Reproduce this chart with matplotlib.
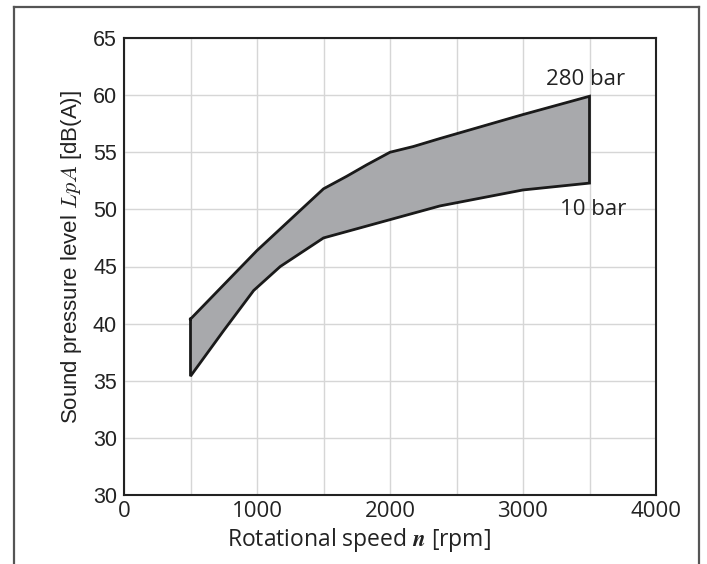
import matplotlib
matplotlib.use("Agg")
import matplotlib.pyplot as plt
from matplotlib.lines import Line2D

plt.rcParams["font.family"] = ["Liberation Sans", "DejaVu Sans"]
plt.rcParams["mathtext.fontset"] = "cm"

# speed [rpm] and sound pressure level [dB(A)]
speed_hi = [500, 1000, 1500, 1675, 1825, 2000, 2175, 2375, 3000, 3500]
level_hi = [40.4, 46.4, 51.8, 52.9, 53.9, 55.0, 55.5, 56.2, 58.3, 59.9]
speed_lo = [500, 750, 975, 1175, 1500, 1750, 2000, 2375, 3000, 3500]
level_lo = [35.4, 39.4, 42.9, 45.0, 47.5, 48.3, 49.1, 50.3, 51.7, 52.3]

x_ticks = [0, 1000, 2000, 3000, 4000]
y_ticks = [25, 30, 35, 40, 45, 50, 55, 60, 65]
y_tick_labels = ["30", "30", "35", "40", "45", "50", "55", "60", "65"]

W, H = 707, 564
fig = plt.figure(figsize=(W / 100, H / 100), dpi=100)
ax = fig.add_axes([124 / W, 1 - 495 / H, 532 / W, 457 / H])

# outer frame (open at the bottom)
frame_kw = dict(color="#555555", lw=1.6, transform=fig.transFigure)
fig.add_artist(Line2D([14 / W, 14 / W], [0, 1 - 7 / H], **frame_kw))
fig.add_artist(Line2D([14 / W, 699 / W], [1 - 7 / H, 1 - 7 / H], **frame_kw))
fig.add_artist(Line2D([699 / W, 699 / W], [0, 1 - 7 / H], **frame_kw))

# band polygon: upper curve, then lower curve reversed
poly_x = speed_hi + speed_lo[::-1] + [speed_hi[0]]
poly_y = level_hi + level_lo[::-1] + [level_hi[0]]
ax.fill(poly_x, poly_y, color="#a8a9ac", zorder=2)
ax.plot(poly_x, poly_y, color="#1a1a1a", lw=2.0, zorder=3, solid_joinstyle="miter")

txt = "#222222"
ax.text(3470, 61.4, "280 bar", ha="center", va="center", fontsize=16,
        color=txt, family="Open Sans")
ax.text(3530, 50.0, "10 bar", ha="center", va="center", fontsize=16,
        color=txt, family="Open Sans")

ax.set_xlim(0, 4000)
ax.set_ylim(25, 65)
ax.set_xticks(x_ticks)
ax.set_xticks(range(500, 4000, 1000), minor=True)
ax.set_yticks(y_ticks)
ax.set_yticklabels(y_tick_labels)
ax.grid(True, which="both", color="#d6d6d6", lw=1.0, zorder=1)
ax.set_axisbelow(True)
ax.tick_params(which="both", length=0, colors=txt)
ax.tick_params(axis="y", labelsize=15.5, pad=5)
ax.tick_params(axis="x", labelsize=16, pad=4)
for lab in ax.get_xticklabels():
    lab.set_family("Open Sans")
for s in ax.spines.values():
    s.set_color("#222222")
    s.set_linewidth(1.5)

fig.text(359 / W, 1 - 546 / H, "Rotational speed $\\boldsymbol{n}$ [rpm]",
         ha="center", va="baseline", fontsize=16.5, color=txt, family="Open Sans")
fig.text(72 / W, 1 - 257 / H, "Sound pressure level $LpA$ [dB(A)]",
         ha="center", va="center", rotation=90, fontsize=16, color=txt)

fig.savefig("out.png", dpi=100)
